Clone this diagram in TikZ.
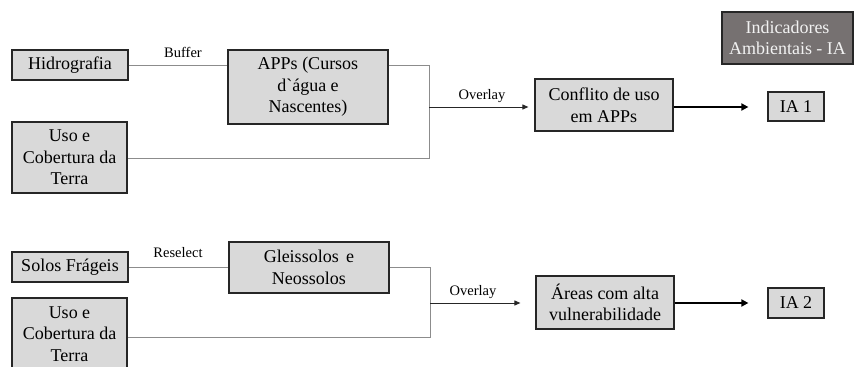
\documentclass[tikz,border=0pt]{standalone}
\usepackage{fontspec}
\setmainfont{Liberation Serif}
\usetikzlibrary{arrows.meta,calc}
\definecolor{boxfill}{HTML}{D9D9D9}
\definecolor{darkfill}{HTML}{767171}
\definecolor{linegray}{HTML}{8C8C8C}
\tikzset{
  boxnode/.style={draw=black!85, line width=1.2pt, fill=boxfill, align=center, inner sep=1pt,
    font=\fontsize{18}{21.5}\selectfont, text=black},
  darkbox/.style={draw=black!85, line width=1.2pt, fill=darkfill, align=center, inner sep=1pt,
    font=\fontsize{18}{21.5}\selectfont, text=white!95!black},
  thinline/.style={draw=linegray, line width=0.9pt},
  overlayarrow/.style={draw=black!85, line width=0.9pt, -{Triangle[length=6pt,width=5pt]}},
  thickarrow/.style={draw=black, line width=2pt, -{Triangle[length=7pt,width=7pt]}},
  lbl/.style={font=\fontsize{14.5}{16}\selectfont, text=black, inner sep=0pt}
}
\begin{document}
\begin{tikzpicture}[x=1pt,y=-1pt]
\clip (0,0) rectangle (855,367);
\fill[white] (0,0) rectangle (855,367);
% top section
\node[boxnode, minimum width=116pt, minimum height=30pt] (hid) at (70,65) {Hidrografia};
\node[boxnode, minimum width=160pt, minimum height=74pt] (app) at (308,87) {APPs (Cursos\\d\textasciigrave água e\\Nascentes)};
\node[boxnode, minimum width=115pt, minimum height=71pt] (uso1) at (69.5,157.5) {Uso e\\Cobertura da\\Terra};
\node[boxnode, minimum width=138pt, minimum height=52pt] (conf) at (604,105) {Conflito de uso\\em APPs};
\node[boxnode, minimum width=56pt, minimum height=29pt] (ia1) at (796,106.5) {IA 1};
\node[darkbox, minimum width=131pt, minimum height=52pt] (ind) at (787.5,38) {Indicadores\\Ambientais - IA};
\coordinate (t1) at (429,65);
\coordinate (t2) at (429,158);
\coordinate (j1) at (429,107);
\draw[thinline] (hid.east) -- (hid.east -| app.west);
\draw[thinline] (hid.east -| app.east) -- (t1) -- (t2) -- (t2 -| uso1.east);
\draw[overlayarrow, shorten >=6pt] (j1) -- (j1 -| conf.west);
\draw[thickarrow, shorten >=19pt] (conf.east |- j1) -- (j1 -| ia1.west);
\node[lbl] (buf) at (183,52) {Buffer};
\node[lbl] (ov1) at (482,96) {Overlay};
% bottom section
\node[boxnode, minimum width=116pt, minimum height=30pt] (solos) at (70,267) {Solos Frágeis};
\node[boxnode, minimum width=160pt, minimum height=51pt] (gle) at (309,267.5) {Gleissolos\, e\\Neossolos};
\node[boxnode, minimum width=115pt, minimum height=72pt] (uso2) at (69.5,334) {Uso e\\Cobertura da\\Terra};
\node[boxnode, minimum width=138pt, minimum height=53pt] (areas) at (605,302.5) {Áreas com alta\\vulnerabilidade};
\node[boxnode, minimum width=56pt, minimum height=30pt] (ia2) at (796,303) {IA 2};
\coordinate (b1) at (430,267.5);
\coordinate (b2) at (430,337);
\coordinate (j2) at (430,303);
\draw[thinline] (solos.east) -- (solos.east -| gle.west);
\draw[thinline] (gle.east) -- (b1) -- (b2) -- (b2 -| uso2.east);
\draw[overlayarrow, shorten >=15pt] (j2) -- (j2 -| areas.west);
\draw[thickarrow, shorten >=19pt] (areas.east |- j2) -- (j2 -| ia2.west);
\node[lbl] (res) at (178,253) {Reselect};
\node[lbl] (ov2) at (473,292) {Overlay};
\end{tikzpicture}
\end{document}
